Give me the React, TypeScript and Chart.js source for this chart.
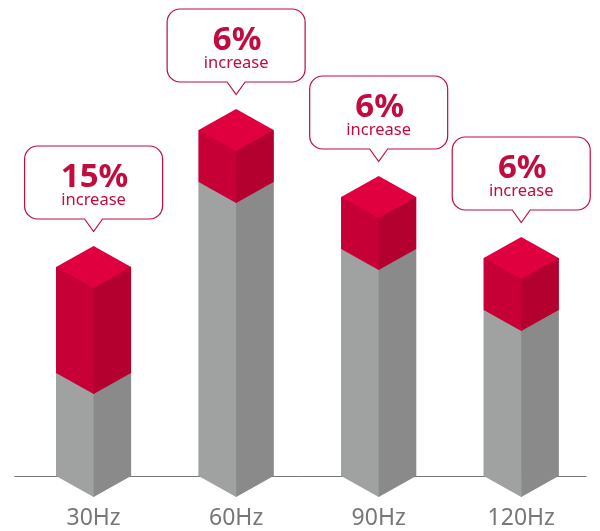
import React, { useEffect, useRef } from "react";
import { Chart, registerables } from "chart.js";

Chart.register(...registerables);

const categories = ["30Hz", "60Hz", "90Hz", "120Hz"];
const baseValues = [103, 294, 227, 166];
const increaseValues = [106, 52, 52, 52];
const percentLabels = ["15%", "6%", "6%", "6%"];
const captionLabel = "increase";

const FONT = '"Noto Sans", sans-serif';
const DEPTH = 21;
const RED = { left: "#c60037", right: "#b3002f", top: "#e0003f" };
const GREY = { left: "#a0a2a1", right: "#8a8a8a" };
const INK = "#c20b3e";

function poly(ctx: CanvasRenderingContext2D, pts: number[][], fill: string) {
  ctx.beginPath();
  pts.forEach(([x, y], i) => (i ? ctx.lineTo(x, y) : ctx.moveTo(x, y)));
  ctx.closePath();
  ctx.fillStyle = fill;
  ctx.fill();
}

function callout(ctx: CanvasRenderingContext2D, cx: number, apex: number, pct: string) {
  const hw = 69, top = apex - 100, bottom = apex - 27, tip = apex - 14.5, r = 13, pw = 9;
  const l = cx - hw, rt = cx + hw;
  ctx.beginPath();
  ctx.moveTo(l + r, top);
  ctx.arcTo(rt, top, rt, bottom, r);
  ctx.arcTo(rt, bottom, l, bottom, r);
  ctx.lineTo(cx + pw, bottom);
  ctx.lineTo(cx, tip);
  ctx.lineTo(cx - pw, bottom);
  ctx.arcTo(l, bottom, l, top, r);
  ctx.arcTo(l, top, rt, top, r);
  ctx.closePath();
  ctx.fillStyle = "#ffffff";
  ctx.fill();
  ctx.strokeStyle = INK;
  ctx.lineWidth = 1.2;
  ctx.stroke();
  ctx.fillStyle = INK;
  ctx.textAlign = "center";
  ctx.textBaseline = "alphabetic";
  ctx.font = `bold 33px ${FONT}`;
  ctx.fillText(pct, cx + 1, top + 41);
  ctx.font = `16.5px ${FONT}`;
  ctx.fillText(captionLabel, cx, top + 59);
}

const isoPlugin = {
  id: "iso",
  beforeDatasetsDraw(chart: any) {
    const { ctx, chartArea, scales } = chart;
    const y = Math.round(scales.y.getPixelForValue(0)) + 0.5;
    ctx.save();
    ctx.strokeStyle = "#777777";
    ctx.lineWidth = 1;
    ctx.beginPath();
    ctx.moveTo(chartArea.left - 8, y);
    ctx.lineTo(chartArea.right - 6, y);
    ctx.stroke();
    ctx.restore();
  },
  afterDatasetsDraw(chart: any) {
    const { ctx } = chart;
    const greys = chart.getDatasetMeta(0).data;
    const reds = chart.getDatasetMeta(1).data;
    ctx.save();
    categories.forEach((_, i) => {
      const g = greys[i];
      const r = reds[i];
      const cx = g.x;
      const l = cx - g.width / 2;
      const rt = cx + g.width / 2;
      poly(ctx, [[l, g.y], [cx + 0.6, g.y], [cx + 0.6, g.base + DEPTH], [cx, g.base + DEPTH], [l, g.base]], GREY.left);
      poly(ctx, [[cx, g.y], [rt, g.y], [rt, g.base], [cx, g.base + DEPTH]], GREY.right);
      poly(ctx, [[l, r.y], [cx + 0.6, r.y], [cx + 0.6, r.base + DEPTH], [cx, r.base + DEPTH], [l, r.base]], RED.left);
      poly(ctx, [[cx, r.y], [rt, r.y], [rt, r.base], [cx, r.base + DEPTH]], RED.right);
      poly(ctx, [[cx, r.y - DEPTH], [rt, r.y], [cx, r.y + DEPTH], [l, r.y]], RED.top);
      callout(ctx, cx, r.y - DEPTH, percentLabels[i]);
    });
    ctx.restore();
  },
};

export default function App() {
  const ref = useRef<HTMLCanvasElement>(null);
  useEffect(() => {
    const chart = new Chart(ref.current!, {
      type: "bar",
      data: {
        labels: categories,
        datasets: [
          { data: baseValues, backgroundColor: GREY.left, barThickness: 75, borderWidth: 0, inflateAmount: 0 },
          { data: increaseValues, backgroundColor: RED.left, barThickness: 75, borderWidth: 0, inflateAmount: 0 },
        ],
      },
      options: {
        responsive: false,
        animation: false,
        events: [],
        layout: { padding: { left: 22.3, right: 7.5, top: 0, bottom: 0 } },
        plugins: { legend: { display: false }, tooltip: { enabled: false }, title: { display: false } },
        scales: {
          x: {
            stacked: true,
            grid: { display: false, drawTicks: false },
            border: { display: false },
            afterFit(scale: any) {
              scale.height = 55;
            },
            ticks: {
              color: "#777777",
              padding: 29,
              font: { family: FONT, size: 23 },
              maxRotation: 0,
              autoSkip: false,
            },
          },
          y: { stacked: true, display: false, min: 0, max: 476 },
        },
      },
      plugins: [isoPlugin],
    } as any);
    return () => chart.destroy();
  }, []);
  return (
    <canvas
      ref={ref}
      width={600}
      height={531}
      style={{ position: "absolute", left: 0, top: 0, display: "block" }}
    />
  );
}
